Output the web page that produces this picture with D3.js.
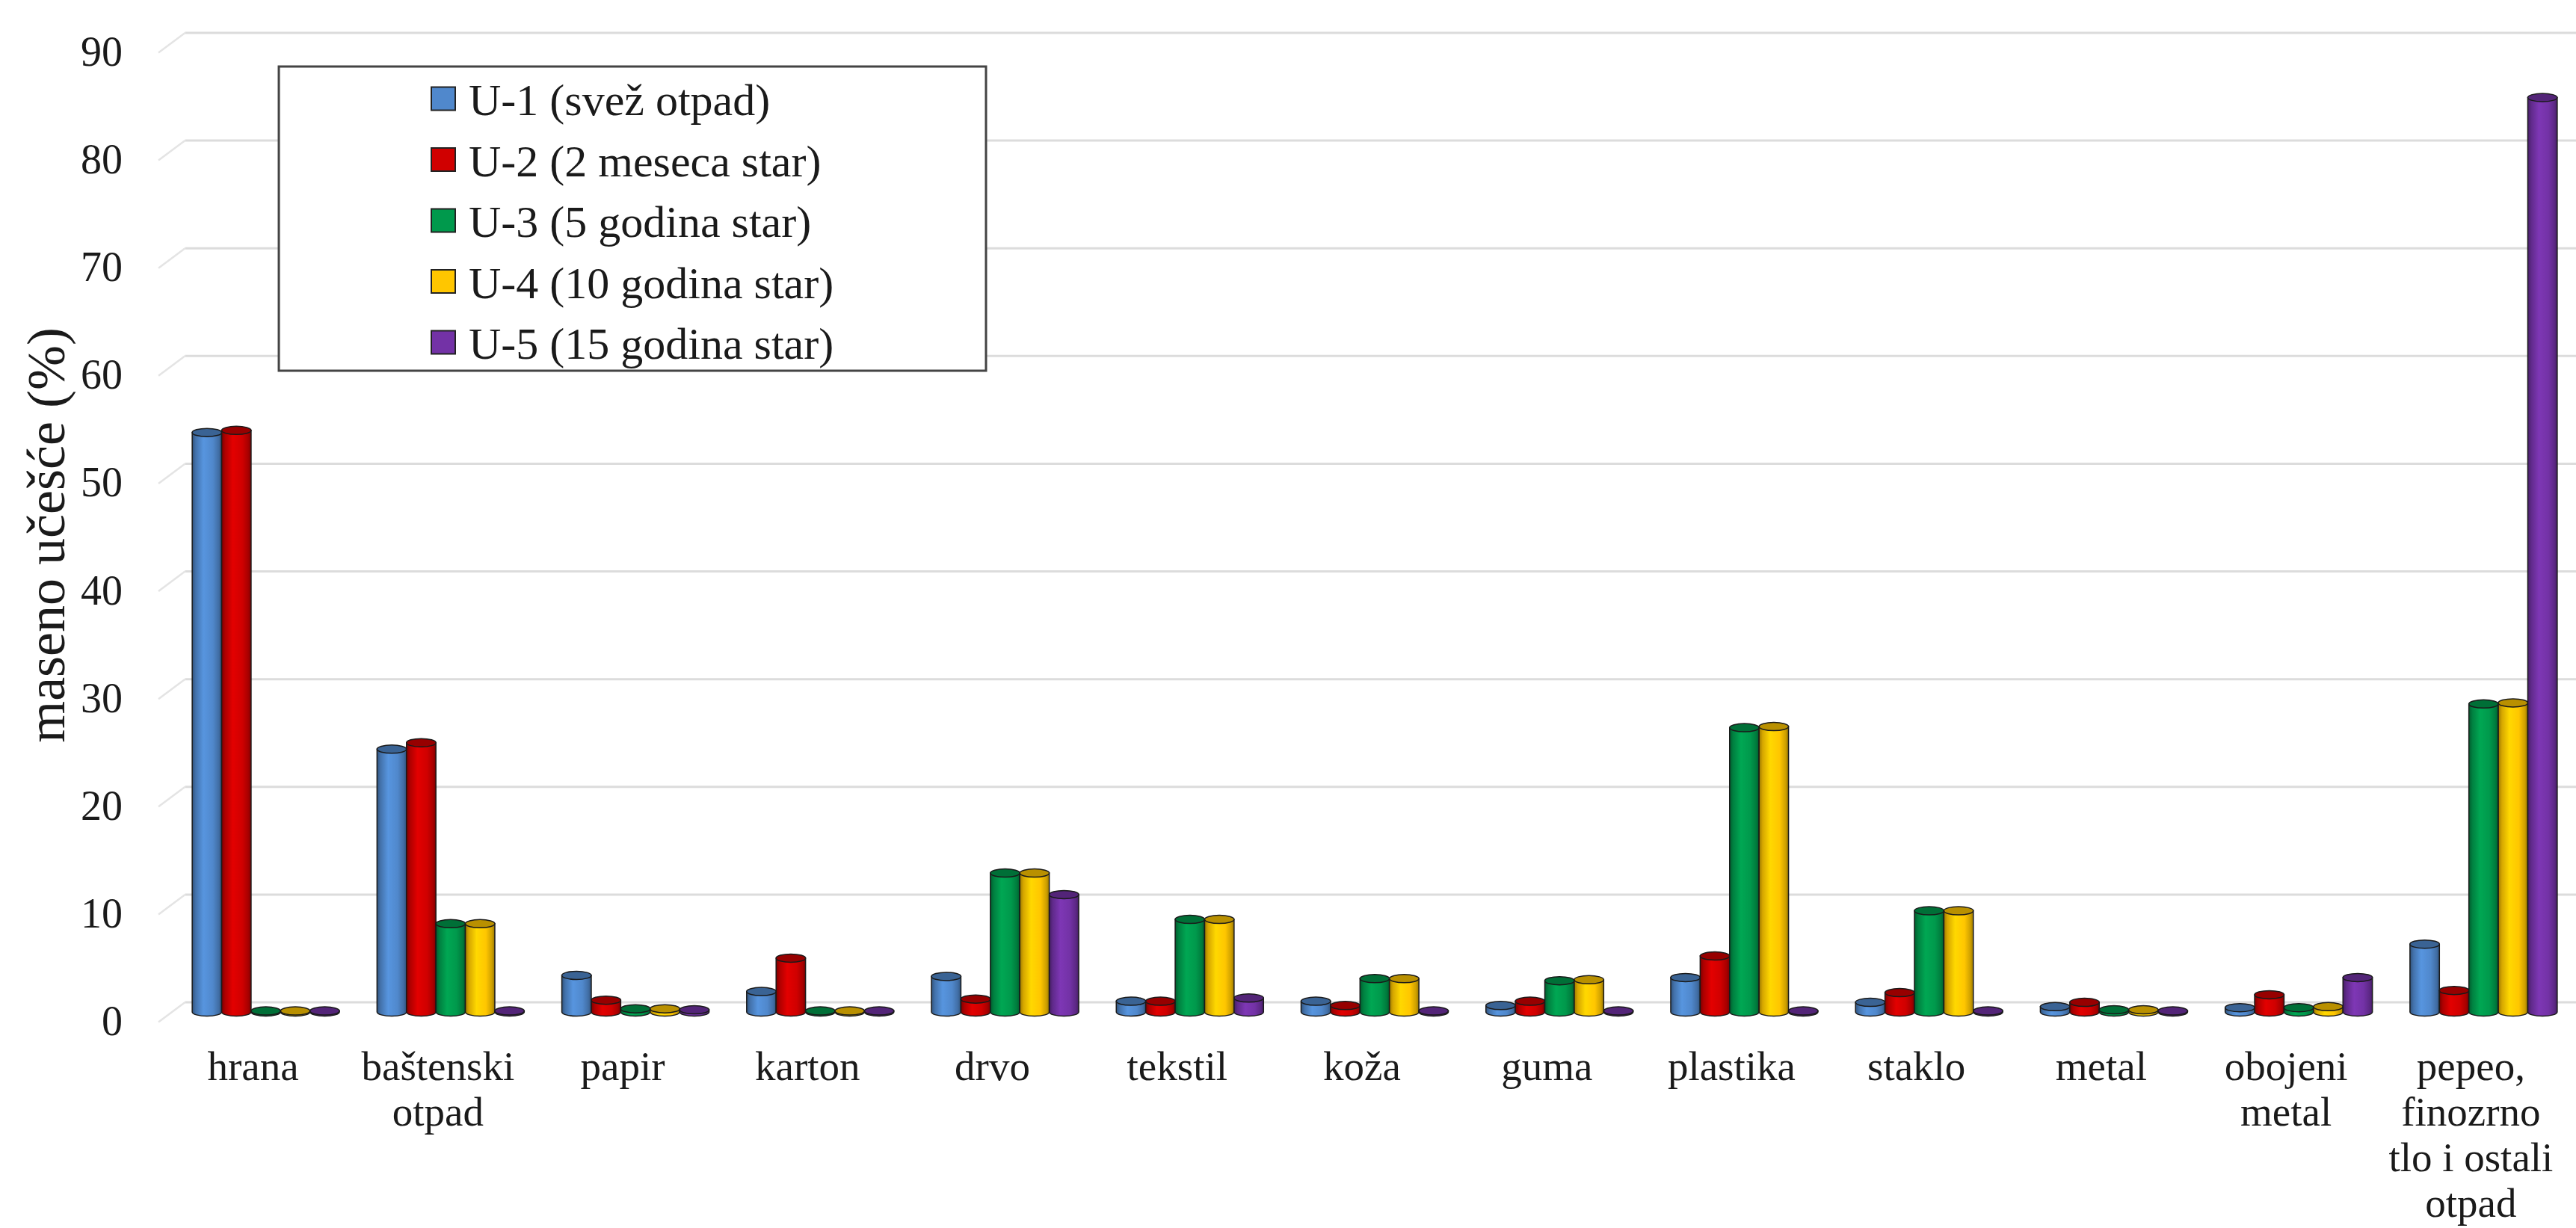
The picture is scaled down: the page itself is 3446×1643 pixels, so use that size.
<!DOCTYPE html>
<html><head><meta charset="utf-8">
<script src="https://cdn.jsdelivr.net/npm/d3@7"></script>
<style>
body{margin:0;background:#fff}
text{font-family:"Liberation Serif","Times New Roman",serif;fill:#1a1a1a}
</style>
</head><body>
<svg id="c" width="3446" height="1643"></svg>
<script>
// ---- data ----
const categories = ["hrana", "baštenski\notpad", "papir", "karton", "drvo", "tekstil", "koža", "guma", "plastika", "staklo", "metal", "obojeni\nmetal", "pepeo,\nfinozrno\ntlo i ostali\notpad"];
const seriesNames = ["U-1 (svež otpad)", "U-2 (2 meseca star)", "U-3 (5 godina star)", "U-4 (10 godina star)", "U-5 (15 godina star)"];
const u1 = [53.8, 24.4, 3.4, 1.9, 3.3, 1.0, 1.0, 0.6, 3.2, 0.9, 0.5, 0.4, 6.3];
const u2 = [54.0, 25.0, 1.1, 5.0, 1.2, 1.0, 0.6, 1.0, 5.2, 1.8, 0.9, 1.6, 2.0];
const u3 = [0.1, 8.2, 0.3, 0.1, 12.9, 8.6, 3.1, 2.9, 26.4, 9.4, 0.2, 0.4, 28.6];
const u4 = [0.1, 8.2, 0.3, 0.1, 12.9, 8.6, 3.1, 3.0, 26.5, 9.4, 0.2, 0.5, 28.7];
const u5 = [0.1, 0.1, 0.2, 0.1, 10.9, 1.3, 0.1, 0.1, 0.1, 0.1, 0.1, 3.2, 84.9];
const seriesValues = [u1, u2, u3, u4, u5];
const seriesColors = ["#5088cc", "#d00000", "#00994c", "#ffc600", "#7332a6"];
const yTicks = [0, 10, 20, 30, 40, 50, 60, 70, 80, 90];
const yTitle = "maseno učešće (%)";

// ---- layout ----
const svg = d3.select("#c");
const y = d3.scaleLinear().domain([0, 90]).range([1341, 44]);
const depthX = 35.5, depthY = 26.5;
const wallX = 247.5, rightX = 3446;
const barDY = 13;
const x = d3.scaleBand().domain(categories).range([232, 3446]);
const groupW = 197;
const xs = d3.scaleBand().domain(seriesNames).range([0, groupW]);
const gOff = (x.bandwidth() - groupW) / 2;

// gradients
const defs = svg.append("defs");
seriesColors.forEach((c, i) => {
  const base = d3.color(c);
  const g = defs.append("linearGradient").attr("id", "g" + i)
    .attr("x1", 0).attr("x2", 1).attr("y1", 0).attr("y2", 0);
  [[0, base.darker(1.4)], [0.12, base.darker(0.5)], [0.38, base.brighter(0.25)],
   [0.7, base], [0.9, base.darker(0.6)], [1, base.darker(1.4)]].forEach(([o, col]) =>
    g.append("stop").attr("offset", o).attr("stop-color", col.formatHex()));
});

// gridlines: back wall + side wall diagonals
const grid = svg.append("g");
grid.selectAll("line.back").data(yTicks).join("line")
  .attr("x1", wallX).attr("x2", rightX)
  .attr("y1", d => y(d)).attr("y2", d => y(d))
  .attr("stroke", "#dcdcdc").attr("stroke-width", 3);
grid.selectAll("line.side").data(yTicks).join("line")
  .attr("x1", wallX - depthX).attr("y1", d => y(d) + depthY)
  .attr("x2", wallX).attr("y2", d => y(d))
  .attr("stroke", "#e4e4e4").attr("stroke-width", 2.5);

// tick labels
svg.append("g").selectAll("text").data(yTicks).join("text")
  .attr("x", 164).attr("y", d => y(d) + 25)
  .attr("text-anchor", "end").attr("dominant-baseline", "central")
  .attr("font-size", 56).text(d => d);

// y title
svg.append("text")
  .attr("transform", "translate(62,716) rotate(-90)")
  .attr("text-anchor", "middle").attr("dominant-baseline", "central")
  .attr("font-size", 72).text(yTitle);

// legend
const lg = svg.append("g");
lg.append("rect").attr("x", 373).attr("y", 89).attr("width", 946).attr("height", 407)
  .attr("fill", "#fff").attr("stroke", "#444").attr("stroke-width", 3);
const ly = d3.scalePoint().domain(seriesNames).range([132, 458]);
seriesNames.forEach((s, i) => {
  lg.append("rect").attr("x", 577).attr("y", ly(s) - 15.5).attr("width", 32).attr("height", 31)
    .attr("fill", seriesColors[i]).attr("stroke", "#222").attr("stroke-width", 2);
  lg.append("text").attr("x", 627).attr("y", ly(s) + 2).attr("dominant-baseline", "central")
    .attr("font-size", 60).text(s);
});

// bars (cylinders)
const bars = svg.append("g");
const w = xs.bandwidth(), rx = w / 2, ry = 5.5;
categories.forEach((cat, ci) => {
  seriesNames.forEach((s, si) => {
    const v = seriesValues[si][ci];
    const xl = x(cat) + gOff + xs(s), xr = xl + w;
    const yt = y(v) + barDY, yb = y(0) + barDY;
    const g = bars.append("g");
    g.append("path")
      .attr("d", `M${xl},${yt} L${xl},${yb} A${rx},${ry} 0 0 0 ${xr},${yb} L${xr},${yt} Z`)
      .attr("fill", `url(#g${si})`).attr("stroke", "#1a1a1a").attr("stroke-width", 1.5);
    g.append("ellipse").attr("cx", xl + rx).attr("cy", yt).attr("rx", rx).attr("ry", ry)
      .attr("fill", d3.color(seriesColors[si]).darker(0.9).formatHex())
      .attr("stroke", "#1a1a1a").attr("stroke-width", 1.5);
  });
});

// category labels
const cl = svg.append("g");
categories.forEach(cat => {
  const t = cl.append("text").attr("text-anchor", "middle").attr("font-size", 55);
  cat.split("\n").forEach((line, li) => {
    t.append("tspan").attr("x", x(cat) + x.bandwidth() / 2 - 17)
      .attr("y", 1445 + li * 61).text(line);
  });
});
</script>
</body></html>
